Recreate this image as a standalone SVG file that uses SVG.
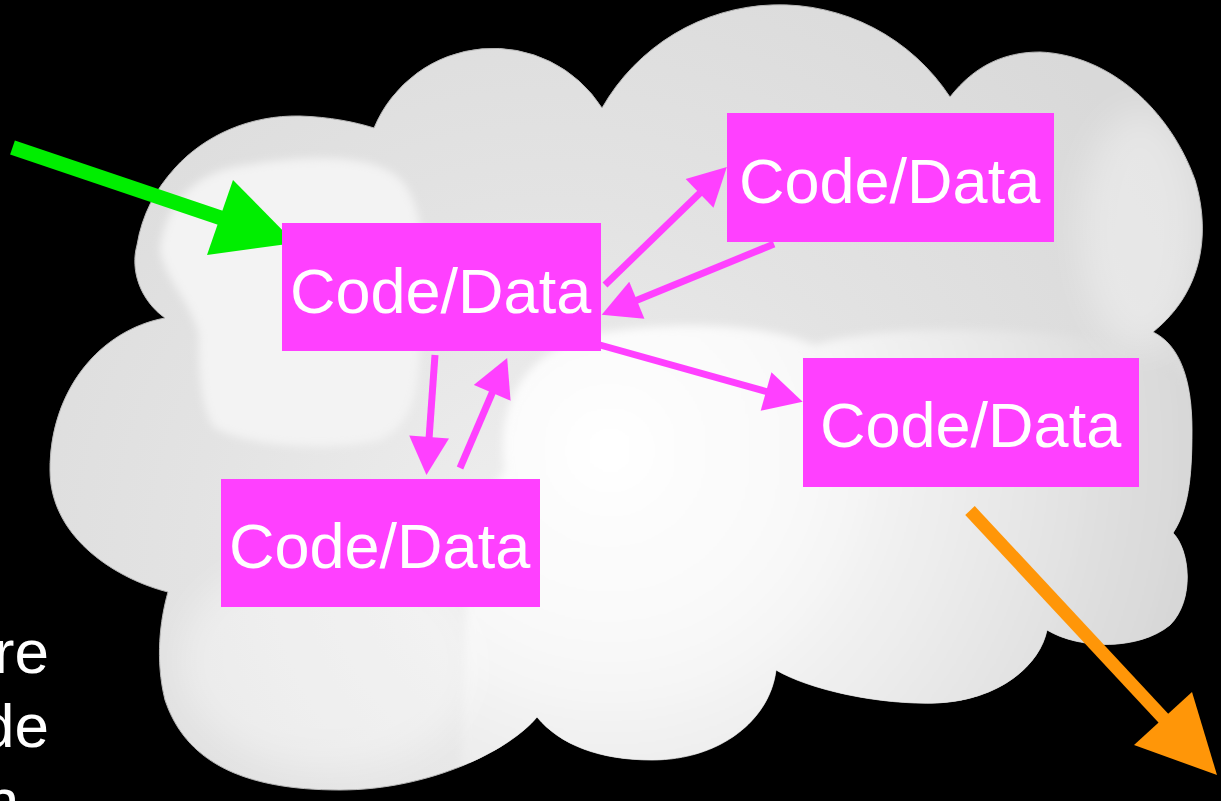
<svg xmlns="http://www.w3.org/2000/svg" width="1221" height="801" viewBox="0 0 1221 801">
  <style>
    .box { fill: #ff40ff; }
    .lbl { font-family: "Liberation Sans", Arial, sans-serif; font-size: 63px; fill: #ffffff; }
    .side { font-family: "Liberation Sans", Arial, sans-serif; font-size: 62px; fill: #ffffff; text-anchor: end; }
    .conn { stroke: #ff40ff; stroke-width: 7; fill: none; marker-end: url(#head); }
  </style>
  <defs>
    <marker id="head" markerUnits="userSpaceOnUse" markerWidth="40" markerHeight="40" viewBox="0 0 38 40" refX="2" refY="20" orient="auto">
      <path d="M0,0 L38,20 L0,40 Z" fill="#ff40ff"/>
    </marker>
    <path id="cloudShape" d="M165,318 C140,300 130,270 137,245 C142,215 155,190 175,168 C205,135 250,115 300,116 C330,117 355,122 374,128 A129,129 0 0 1 602,108 A204,204 0 0 1 950,97 C975,65 1005,52 1040,52 C1110,55 1170,110 1195,180 C1210,230 1205,290 1153,332 C1180,345 1192,380 1192,430 C1192,480 1188,510 1173,533 C1190,550 1195,600 1170,625 C1140,650 1080,650 1047,630 C1040,665 1000,700 937,703 C880,705 810,690 776,670 C770,720 720,760 652,760 C600,760 560,745 537,717 C510,750 430,790 340,790 C240,790 185,760 165,700 C155,660 160,620 168,592 C120,580 50,540 50,470 C50,390 100,330 165,318 Z"/>
    <clipPath id="cloudClip"><use href="#cloudShape"/></clipPath>
    <radialGradient id="base" gradientUnits="userSpaceOnUse" cx="550" cy="560" r="720">
      <stop offset="0" stop-color="#f0f0f0"/>
      <stop offset="0.5" stop-color="#e3e3e3"/>
      <stop offset="1" stop-color="#d9d9d9"/>
    </radialGradient>
    <radialGradient id="glow" gradientUnits="userSpaceOnUse" cx="610" cy="450" r="600">
      <stop offset="0" stop-color="#ffffff"/>
      <stop offset="0.35" stop-color="#f8f8f8"/>
      <stop offset="0.7" stop-color="#e6e6e6"/>
      <stop offset="1" stop-color="#d6d6d6"/>
    </radialGradient>
    <filter id="soft" x="-20%" y="-20%" width="140%" height="140%">
      <feGaussianBlur stdDeviation="4"/>
    </filter>
    <filter id="softer" x="-30%" y="-30%" width="160%" height="160%">
      <feGaussianBlur stdDeviation="18"/>
    </filter>
  </defs>

  <rect width="1221" height="801" fill="#000000"/>

  <g id="cloud">
    <use href="#cloudShape" fill="url(#base)" stroke="#b8b8b8" stroke-width="1"/>
    <g clip-path="url(#cloudClip)">
      <path d="M160,250 C165,200 200,172 240,166 C300,156 380,150 405,185 C425,215 425,260 420,300 C420,360 425,420 380,440 C330,452 250,447 215,428 C200,410 198,360 199,335 C190,300 165,280 160,250 Z" fill="#f3f3f3" filter="url(#soft)"/>
      <path d="M505,470 C495,410 520,350 600,333 C680,320 770,325 815,345 C860,330 960,325 1060,335 C1140,345 1190,370 1205,400 L1205,720 L460,790 L470,520 Z" fill="url(#glow)" filter="url(#soft)"/>
      <ellipse cx="1140" cy="230" rx="60" ry="120" fill="#ffffff" opacity="0.35" filter="url(#softer)"/>
      <ellipse cx="330" cy="660" rx="150" ry="110" fill="#ffffff" opacity="0.35" filter="url(#softer)"/>
    </g>
  </g>

  <g id="side-text">
    <text class="side" x="49" y="673">re</text>
    <text class="side" x="49" y="747">de</text>
    <text class="side" x="19" y="822">n</text>
  </g>

  <g id="connectors">
    <line class="conn" x1="605" y1="285" x2="701" y2="192"/>
    <line class="conn" x1="774" y1="244" x2="635" y2="301"/>
    <line class="conn" x1="600" y1="345" x2="768" y2="392"/>
    <line class="conn" x1="435" y1="355" x2="429" y2="439"/>
    <line class="conn" x1="460" y1="468" x2="493" y2="391"/>
    <g id="in-arrow">
      <line x1="12.5" y1="147.5" x2="224" y2="219" stroke="#00ee00" stroke-width="15"/>
      <polygon points="233,180 295,243 207,255" fill="#00ee00"/>
    </g>
    <g id="out-arrow">
      <line x1="970" y1="510.5" x2="1166" y2="721" stroke="#ff9608" stroke-width="13"/>
      <polygon points="1192,692 1217,775 1134,745" fill="#ff9608"/>
    </g>
  </g>

  <g id="node-a">
    <rect class="box" x="282" y="223" width="319" height="128"/>
    <text class="lbl" x="290" y="313">Code/Data</text>
  </g>
  <g id="node-b">
    <rect class="box" x="727" y="113" width="327" height="129"/>
    <text class="lbl" x="739" y="203">Code/Data</text>
  </g>
  <g id="node-c">
    <rect class="box" x="803" y="358" width="336" height="129"/>
    <text class="lbl" x="820" y="447">Code/Data</text>
  </g>
  <g id="node-d">
    <rect class="box" x="221" y="479" width="319" height="128"/>
    <text class="lbl" x="229" y="568">Code/Data</text>
  </g>
</svg>
